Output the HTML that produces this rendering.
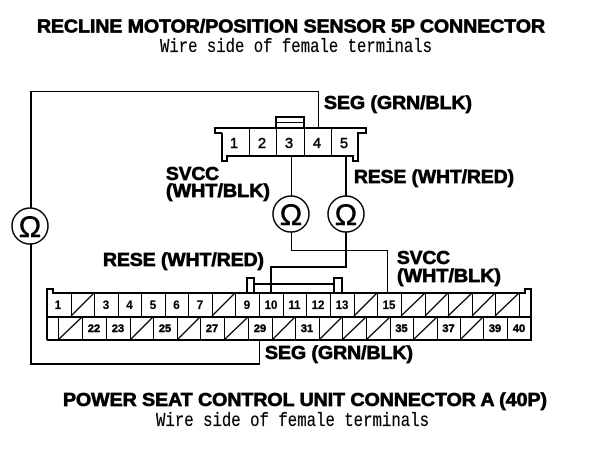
<!DOCTYPE html>
<html><head><meta charset="utf-8"><style>
html,body{margin:0;padding:0;background:#fff;width:608px;height:452px;overflow:hidden}
svg{display:block}
.l{fill:none;stroke:#000;shape-rendering:crispEdges}
.b{font:bold 18.5px "Liberation Sans",sans-serif;stroke:#000;stroke-width:.7}
.m{font:19.5px "Liberation Mono",monospace;stroke:#000;stroke-width:.25}
.o{font:30px "Liberation Sans",sans-serif;text-anchor:middle;stroke:#000;stroke-width:.5}
.n{font:bold 11.5px "Liberation Sans",sans-serif;text-anchor:middle;stroke:#000;stroke-width:.2}
.p{font:bold 11px "Liberation Sans",sans-serif;text-anchor:middle;stroke:#000;stroke-width:.45}
.t{font:14.5px "Liberation Sans",sans-serif;text-anchor:middle;stroke:#000;stroke-width:.5}
</style></head><body>
<svg width="608" height="452" viewBox="0 0 608 452" xmlns="http://www.w3.org/2000/svg">
<text class="b" x="37" y="32.5" textLength="508" lengthAdjust="spacingAndGlyphs">RECLINE MOTOR/POSITION SENSOR 5P CONNECTOR</text>
<text class="m" x="160" y="52" textLength="272" lengthAdjust="spacingAndGlyphs">Wire side of female terminals</text>
<text class="b" x="63" y="406" textLength="484" lengthAdjust="spacingAndGlyphs">POWER SEAT CONTROL UNIT CONNECTOR A (40P)</text>
<text class="m" x="156" y="426" textLength="273" lengthAdjust="spacingAndGlyphs">Wire side of female terminals</text>
<text class="b" x="324" y="109" textLength="148" lengthAdjust="spacingAndGlyphs">SEG (GRN/BLK)</text>
<text class="b" x="166" y="180" textLength="53" lengthAdjust="spacingAndGlyphs">SVCC</text>
<text class="b" x="166" y="197" textLength="104" lengthAdjust="spacingAndGlyphs">(WHT/BLK)</text>
<text class="b" x="354" y="183" textLength="160" lengthAdjust="spacingAndGlyphs">RESE (WHT/RED)</text>
<text class="b" x="103" y="266" textLength="161" lengthAdjust="spacingAndGlyphs">RESE (WHT/RED)</text>
<text class="b" x="397" y="264" textLength="53" lengthAdjust="spacingAndGlyphs">SVCC</text>
<text class="b" x="397" y="282" textLength="104" lengthAdjust="spacingAndGlyphs">(WHT/BLK)</text>
<text class="b" x="265" y="359" textLength="148" lengthAdjust="spacingAndGlyphs">SEG (GRN/BLK)</text>

<!-- outer SEG loop -->
<path class="l" stroke-width="1" d="M318.5 128V91.5H31"/>
<polyline class="l" stroke-width="2" points="31,91 31,364 260,364"/>
<path class="l" stroke-width="1" d="M259.5 364V340"/>
<!-- top connector -->
<polyline class="l" stroke-width="2" points="222,133 215,133 215,128 366,128 366,133 358,133 358,161 353,161 353,156 227,156 227,161 222,161 222,133"/>
<polyline class="l" stroke-width="2" points="276,127 276,117 304,117 304,127"/>
<line class="l" stroke-width="1" x1="276" y1="122.5" x2="304" y2="122.5"/>
<path class="l" stroke-width="1" d="M249.5 128V156M276.5 128V156M304.5 128V156M331.5 128V156"/>
<text class="t" x="234" y="148">1</text><text class="t" x="262" y="148">2</text><text class="t" x="289" y="148">3</text><text class="t" x="317" y="148">4</text><text class="t" x="344" y="148">5</text>
<!-- wires -->
<path class="l" stroke-width="1" d="M291.5 156V196"/>
<polyline class="l" stroke-width="2" points="346,156 346,196"/>
<path class="l" stroke-width="1" d="M291.5 232V250.5H387.5V292"/>
<polyline class="l" stroke-width="2" points="346,232 346,267 271,267 271,292"/>
<!-- meters -->
<g fill="#fff" stroke="#000" stroke-width="1.5">
<circle cx="30" cy="226" r="18"/><circle cx="291" cy="214" r="18"/><circle cx="346" cy="214" r="18"/>
</g>
<text class="o" x="30" y="237">Ω</text><text class="o" x="291" y="225">Ω</text><text class="o" x="346" y="225">Ω</text>
<!-- big connector -->
<polyline class="l" stroke-width="2" points="254,292 254,278 247,278 247,292"/>
<polyline class="l" stroke-width="2" points="334,292 334,278 342,278 342,292"/>
<line class="l" stroke-width="2" x1="254" y1="284" x2="334" y2="284"/>
<polyline class="l" stroke-width="2" points="47,340 47,289 53,289 53,293 525,293 525,289 531,289 531,340 47,340"/>
<line class="l" stroke-width="2" x1="47" y1="317" x2="531" y2="317"/>
<path class="l" stroke-width="1" d="M71.5 293V317M94.5 293V317M118.5 293V317M141.5 293V317M165.5 293V317M188.5 293V317M212.5 293V317M235.5 293V317M259.5 293V317M283.5 293V317M306.5 293V317M330.5 293V317M354.5 293V317M377.5 293V317M401.5 293V317M425.5 293V317M448.5 293V317M472.5 293V317M495.5 293V317M519.5 293V317"/>
<path class="l" stroke-width="1" d="M58.5 317V340M82.5 317V340M106.5 317V340M130.5 317V340M153.5 317V340M177.5 317V340M200.5 317V340M224.5 317V340M248.5 317V340M272.5 317V340M295.5 317V340M319.5 317V340M342.5 317V340M366.5 317V340M390.5 317V340M413.5 317V340M437.5 317V340M460.5 317V340M483.5 317V340M507.5 317V340"/>
<path d="M71 316L94 293M212 316L235 293M354 316L377 293M401 316L425 293M425 316L448 293M448 316L472 293M472 316L495 293M495 316L519 293M58 340L82 317M130 340L153 317M177 340L200 317M224 340L248 317M272 340L295 317M319 340L342 317M342 340L366 317M366 340L390 317M413 340L437 317M460 340L483 317" fill="none" stroke="#000" stroke-width="1.3"/>
<text class="n" x="58" y="309">1</text><text class="n" x="106" y="309">3</text><text class="n" x="129.5" y="309">4</text><text class="n" x="153" y="309">5</text><text class="n" x="176.5" y="309">6</text><text class="n" x="200" y="309">7</text><text class="n" x="247" y="309">9</text><text class="n" x="271" y="309">10</text><text class="n" x="294.5" y="309">11</text><text class="n" x="318" y="309">12</text><text class="n" x="342" y="309">13</text><text class="n" x="389" y="309">15</text>
<text class="p" x="94" y="332">22</text><text class="p" x="118" y="332">23</text><text class="p" x="165" y="332">25</text><text class="p" x="212" y="332">27</text><text class="p" x="260" y="332">29</text><text class="p" x="307" y="332">31</text><text class="p" x="401.5" y="332">35</text><text class="p" x="448.5" y="332">37</text><text class="p" x="495" y="332">39</text><text class="p" x="519" y="332">40</text>
</svg>
</body></html>
